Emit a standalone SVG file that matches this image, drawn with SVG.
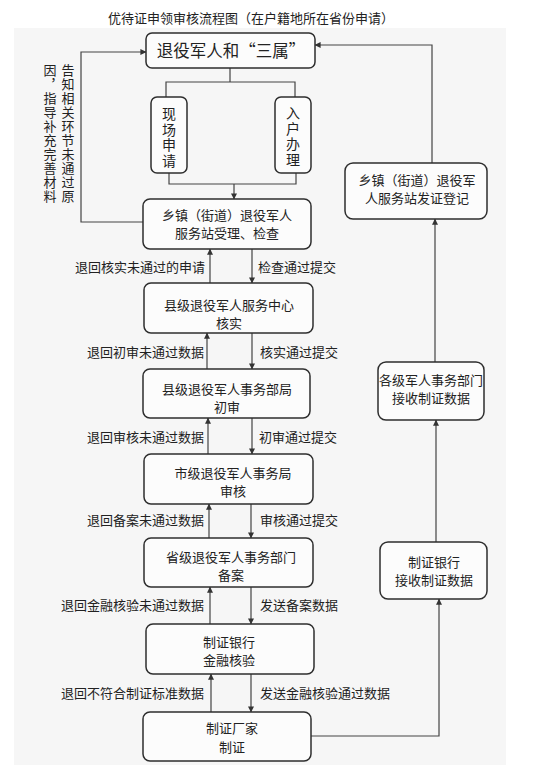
<svg xmlns="http://www.w3.org/2000/svg" width="533" height="768" viewBox="0 0 533 768">
<defs>
<marker id="ah" viewBox="0 0 8 8" refX="7.5" refY="4" markerWidth="5" markerHeight="5" orient="auto">
<path d="M0,0 L8,4 L0,8 z" fill="#333"/>
</marker>
<style>
.bx{fill:#fcfcfc;stroke:#2e2e2e;stroke-width:1.5}
.t{font-family:"Noto Sans CJK SC","Noto Sans CJK JP",sans-serif;font-size:13px;fill:#222;text-anchor:middle}
.l{font-family:"Noto Sans CJK SC","Noto Sans CJK JP",sans-serif;font-size:13px;fill:#222}
.r{text-anchor:end}
.c{fill:none;stroke:#444;stroke-width:1.2}
.v{font-family:"Noto Sans CJK SC","Noto Sans CJK JP",sans-serif;font-size:13px;fill:#222;writing-mode:vertical-rl;letter-spacing:1px}
</style>
</defs>
<rect x="0" y="0" width="533" height="768" fill="#ffffff"/>
<rect x="14" y="28" width="492" height="737" fill="#f6f6f6"/>
<text class="t" x="251" y="23">优待证申领审核流程图（在户籍地所在省份申请）</text>

<g id="connectors">
<path class="c" d="M230,68 V82 M166,97 V82 H295 V97"/>
<path class="c" d="M169,173 V184 H296 V173 M234,184 V199" marker-end="url(#ah)"/>
<path class="c" d="M143,222 H81 V52 H146" marker-end="url(#ah)"/>
<path class="c" d="M432,163 V45 H315" marker-end="url(#ah)"/>
<path class="c" d="M311,736 H439 V599" marker-end="url(#ah)"/>
<path class="c" d="M436,542 V420" marker-end="url(#ah)"/>
<path class="c" d="M435,362 V219" marker-end="url(#ah)"/>
<path class="c" d="M210,283 V249" marker-end="url(#ah)"/>
<path class="c" d="M252,249 V283" marker-end="url(#ah)"/>
<path class="c" d="M207,369 V333" marker-end="url(#ah)"/>
<path class="c" d="M252,333 V369" marker-end="url(#ah)"/>
<path class="c" d="M208,454 V418" marker-end="url(#ah)"/>
<path class="c" d="M252,418 V454" marker-end="url(#ah)"/>
<path class="c" d="M209,538 V504" marker-end="url(#ah)"/>
<path class="c" d="M251,504 V538" marker-end="url(#ah)"/>
<path class="c" d="M210,624 V587" marker-end="url(#ah)"/>
<path class="c" d="M251,587 V624" marker-end="url(#ah)"/>
<path class="c" d="M211,712 V674" marker-end="url(#ah)"/>
<path class="c" d="M251,674 V712" marker-end="url(#ah)"/>
<text class="v" x="68" y="64">告知相关环节未通过原</text>
<text class="v" x="50" y="64">因，指导补充完善材料</text>
<text class="l r" x="205" y="272">退回核实未通过的申请</text>
<text class="l" x="258" y="272">检查通过提交</text>
<text class="l r" x="204" y="357">退回初审未通过数据</text>
<text class="l" x="260" y="357">核实通过提交</text>
<text class="l r" x="204" y="442">退回审核未通过数据</text>
<text class="l" x="259" y="442">初审通过提交</text>
<text class="l r" x="204" y="525">退回备案未通过数据</text>
<text class="l" x="260" y="525">审核通过提交</text>
<text class="l r" x="204" y="610">退回金融核验未通过数据</text>
<text class="l" x="260" y="610">发送备案数据</text>
<text class="l r" x="204" y="698">退回不符合制证标准数据</text>
<text class="l" x="260" y="698">发送金融核验通过数据</text>
</g>

<g id="n-top"><rect class="bx" x="146" y="33" width="169" height="35" rx="6"/>
<text class="t" x="231" y="57" style="font-size:16.5px">退役军人和“三属”</text></g>

<g id="n-xianchang"><rect class="bx" x="151" y="97" width="36" height="76" rx="6"/>
<text class="v" x="169" y="107" style="font-size:14px;letter-spacing:1.5px">现场申请</text></g>

<g id="n-ruhu"><rect class="bx" x="275" y="97" width="36" height="76" rx="6"/>
<text class="v" x="293" y="106" style="font-size:14px;letter-spacing:1.5px">入户办理</text></g>

<g id="n-xiangzhen"><rect class="bx" x="143" y="199" width="168" height="50" rx="7"/>
<text class="t" x="227" y="220">乡镇（街道）退役军人</text>
<text class="t" x="227" y="238">服务站受理、检查</text></g>

<g id="n-xianji-fuwu"><rect class="bx" x="144" y="283" width="169" height="50" rx="7"/>
<text class="t" x="229" y="310">县级退役军人服务中心</text>
<text class="t" x="229" y="328">核实</text></g>

<g id="n-xianji-shiwu"><rect class="bx" x="143" y="369" width="167" height="49" rx="7"/>
<text class="t" x="227" y="394">县级退役军人事务部局</text>
<text class="t" x="227" y="412">初审</text></g>

<g id="n-shiji"><rect class="bx" x="144" y="454" width="169" height="50" rx="7"/>
<text class="t" x="233" y="478">市级退役军人事务局</text>
<text class="t" x="233" y="496">审核</text></g>

<g id="n-shengji"><rect class="bx" x="144" y="538" width="169" height="49" rx="7"/>
<text class="t" x="231" y="562">省级退役军人事务部门</text>
<text class="t" x="231" y="580">备案</text></g>

<g id="n-yinhang"><rect class="bx" x="146" y="624" width="168" height="50" rx="7"/>
<text class="t" x="229" y="647">制证银行</text>
<text class="t" x="229" y="665">金融核验</text></g>

<g id="n-changjia"><rect class="bx" x="143" y="712" width="168" height="49" rx="7"/>
<text class="t" x="232" y="733">制证厂家</text>
<text class="t" x="232" y="752">制证</text></g>

<g id="n-fazheng"><rect class="bx" x="345" y="163" width="142" height="56" rx="8"/>
<text class="t" x="417" y="185">乡镇（街道）退役军</text>
<text class="t" x="417" y="203">人服务站发证登记</text></g>

<g id="n-geji"><rect class="bx" x="378" y="362" width="106" height="58" rx="8"/>
<text class="t" x="431" y="385">各级军人事务部门</text>
<text class="t" x="431" y="403">接收制证数据</text></g>

<g id="n-yinhang-jieshou"><rect class="bx" x="380" y="542" width="107" height="57" rx="8"/>
<text class="t" x="434" y="567">制证银行</text>
<text class="t" x="434" y="585">接收制证数据</text></g>
</svg>
